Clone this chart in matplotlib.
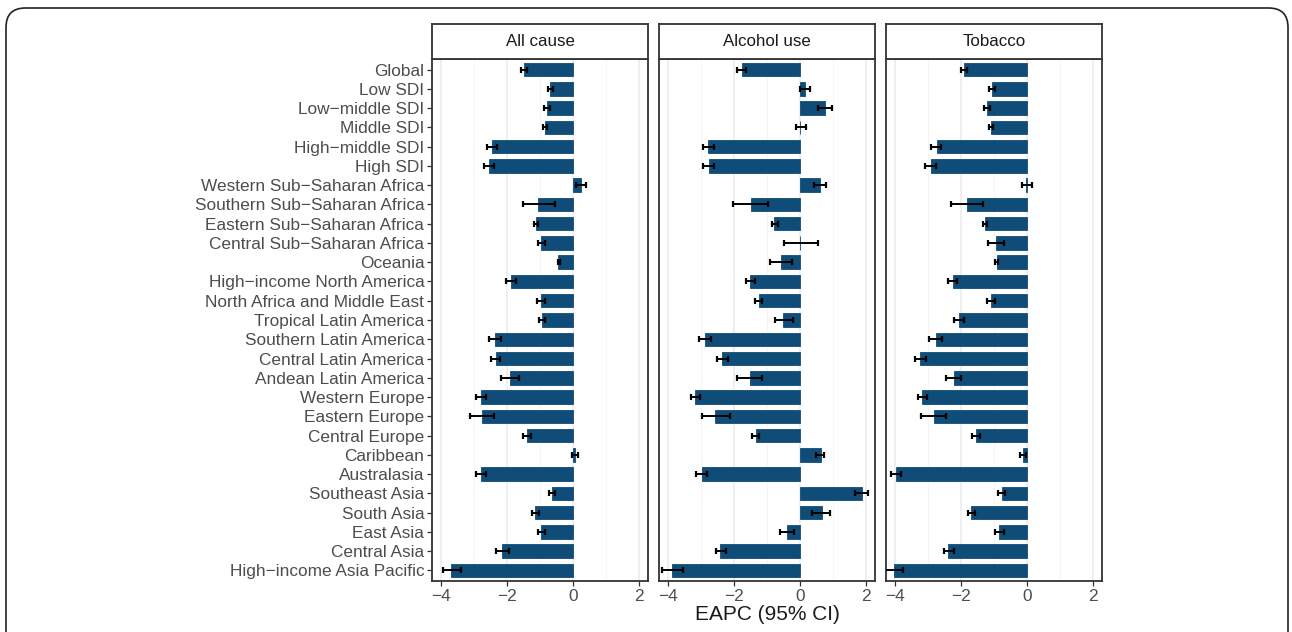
import numpy as np
import matplotlib
matplotlib.use("Agg")
import matplotlib.pyplot as plt
from matplotlib.patches import FancyBboxPatch

plt.rcParams['font.family'] = ['Liberation Sans', 'DejaVu Sans']

locations = ['Global', 'Low SDI', 'Low\u2212middle SDI', 'Middle SDI', 'High\u2212middle SDI', 'High SDI',
             'Western Sub\u2212Saharan Africa', 'Southern Sub\u2212Saharan Africa',
             'Eastern Sub\u2212Saharan Africa', 'Central Sub\u2212Saharan Africa', 'Oceania',
             'High\u2212income North America', 'North Africa and Middle East', 'Tropical Latin America',
             'Southern Latin America', 'Central Latin America', 'Andean Latin America',
             'Western Europe', 'Eastern Europe', 'Central Europe', 'Caribbean', 'Australasia',
             'Southeast Asia', 'South Asia', 'East Asia', 'Central Asia', 'High\u2212income Asia Pacific']
causes = ['All cause', 'Alcohol use', 'Tobacco']

# EAPC estimates and 95% CI, one list per cause
all_eapc = [-1.49, -0.70, -0.79, -0.85, -2.46, -2.55, 0.24, -1.06, -1.12, -0.97, -0.46, -1.88, -0.97,
            -0.94, -2.37, -2.34, -1.91, -2.79, -2.76, -1.40, 0.05, -2.79, -0.64, -1.15, -0.97, -2.16, -3.68]
all_lo = [-1.58, -0.77, -0.88, -0.92, -2.60, -2.70, 0.08, -1.52, -1.18, -1.05, -0.47, -2.03, -1.09,
          -1.02, -2.54, -2.49, -2.18, -2.93, -3.12, -1.50, -0.04, -2.93, -0.72, -1.24, -1.07, -2.33, -3.95]
all_hi = [-1.39, -0.62, -0.70, -0.78, -2.31, -2.39, 0.38, -0.56, -1.05, -0.85, -0.39, -1.73, -0.85,
          -0.84, -2.17, -2.20, -1.65, -2.63, -2.39, -1.28, 0.15, -2.63, -0.56, -1.04, -0.85, -1.95, -3.39]

alc_eapc = [-1.76, 0.14, 0.75, 0.01, -2.79, -2.77, 0.61, -1.49, -0.79, 0.01, -0.58, -1.52, -1.25,
            -0.52, -2.89, -2.35, -1.52, -3.17, -2.56, -1.34, 0.64, -2.98, 1.89, 0.67, -0.40, -2.41, -3.87]
alc_lo = [-1.90, 0.00, 0.54, -0.13, -2.95, -2.94, 0.41, -2.02, -0.86, -0.50, -0.90, -1.63, -1.35,
          -0.77, -3.06, -2.51, -1.91, -3.30, -2.97, -1.45, 0.48, -3.14, 1.66, 0.37, -0.62, -2.55, -4.19]
alc_hi = [-1.63, 0.30, 0.97, 0.17, -2.61, -2.59, 0.80, -0.96, -0.66, 0.55, -0.25, -1.36, -1.14,
          -0.22, -2.69, -2.18, -1.15, -3.02, -2.13, -1.24, 0.74, -2.83, 2.07, 0.92, -0.18, -2.23, -3.53]

tob_eapc = [-1.92, -1.07, -1.22, -1.10, -2.74, -2.92, -0.02, -1.83, -1.28, -0.94, -0.91, -2.25, -1.10,
            -2.07, -2.77, -3.23, -2.22, -3.17, -2.83, -1.55, -0.12, -3.96, -0.76, -1.71, -0.85, -2.38, -4.02]
tob_lo = [-2.01, -1.16, -1.30, -1.16, -2.90, -3.08, -0.16, -2.29, -1.32, -1.17, -0.97, -2.40, -1.21,
          -2.22, -2.97, -3.39, -2.46, -3.29, -3.21, -1.66, -0.20, -4.12, -0.87, -1.78, -0.97, -2.51, -4.40]
tob_hi = [-1.83, -0.96, -1.11, -1.03, -2.59, -2.75, 0.14, -1.34, -1.21, -0.71, -0.87, -2.11, -0.97,
          -1.90, -2.56, -3.07, -2.00, -3.03, -2.45, -1.42, -0.04, -3.82, -0.67, -1.58, -0.71, -2.20, -3.75]

series = [(all_eapc, all_lo, all_hi), (alc_eapc, alc_lo, alc_hi), (tob_eapc, tob_lo, tob_hi)]

bar_col = '#0f4c77'
W, H = 1292, 632
fig = plt.figure(figsize=(W / 100, H / 100), dpi=100)

# rounded outer frame
frame = FancyBboxPatch((6 / W, -0.05), 1282 / W, (H - 8) / H + 0.05,
                       boxstyle='round,pad=0,rounding_size=0.015', transform=fig.transFigure,
                       fill=False, edgecolor='#222222', linewidth=1.2, mutation_aspect=W / H)
fig.patches.append(frame)

lefts = [432, 659, 886]
pw = 216
p_top, p_bot = 59, 581
s_top = 24
y = np.arange(len(locations))

for k, (cause, (est, lo, hi)) in enumerate(zip(causes, series)):
    x0 = lefts[k] / W
    ax = fig.add_axes([x0, 1 - p_bot / H, pw / W, (p_bot - p_top) / H])
    est = np.array(est)
    lo = np.array(lo)
    hi = np.array(hi)
    ax.barh(y, est, height=0.7, color=bar_col, edgecolor=bar_col, linewidth=0.6, zorder=2)
    ax.errorbar(est, y, xerr=[est - lo, hi - est], fmt='none', ecolor='black',
                elinewidth=1.4, capsize=2.0, capthick=1.6, zorder=3)
    ax.set_xlim(-4.27, 2.27)
    ax.set_ylim(len(locations) - 0.45, -0.55)
    ax.set_xticks([-4, -2, 0, 2])
    ax.set_xticklabels(['\u22124', '\u22122', '0', '2'])
    ax.set_xticks([-3, -1, 1], minor=True)
    ax.grid(axis='x', which='major', color='#ebebeb', linewidth=1.1, zorder=0)
    ax.grid(axis='x', which='minor', color='#f4f4f4', linewidth=0.6, zorder=0)
    ax.set_axisbelow(True)
    ax.tick_params(axis='x', which='major', length=3.5, width=0.9, color='#333333',
                   labelsize=12.4, labelcolor='#4d4d4d', pad=2)
    ax.tick_params(axis='x', which='minor', length=0)
    if k == 0:
        ax.set_yticks(y)
        ax.set_yticklabels(locations)
        ax.tick_params(axis='y', length=3.5, width=0.9, color='#333333',
                       labelsize=12.4, labelcolor='#4d4d4d', pad=2)
    else:
        ax.set_yticks([])
    for sp in ax.spines.values():
        sp.set_color('#333333')
        sp.set_linewidth(1.3)
    if k == 1:
        ax.set_xlabel('EAPC (95% CI)', fontsize=15, color='#1a1a1a', labelpad=1)

    # facet strip
    sa = fig.add_axes([x0, 1 - p_top / H, pw / W, (p_top - s_top) / H])
    sa.set_xticks([])
    sa.set_yticks([])
    for sp in sa.spines.values():
        sp.set_color('#333333')
        sp.set_linewidth(1.3)
    sa.text(0.5, 0.5, cause, ha='center', va='center', fontsize=12.2, color='#1a1a1a',
            transform=sa.transAxes)

fig.savefig('out.png', dpi=100)
